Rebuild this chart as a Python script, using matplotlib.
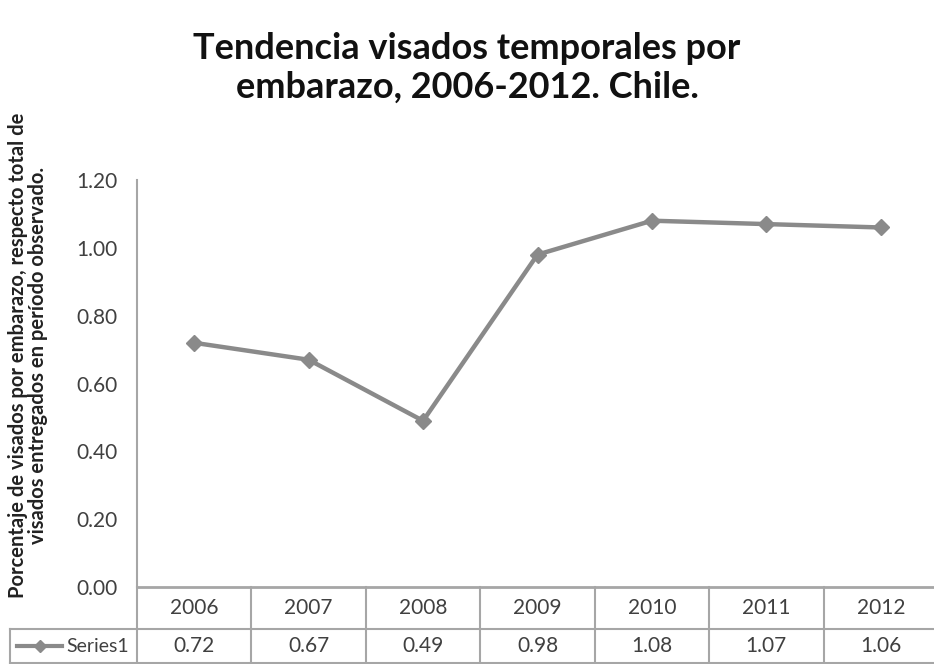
import matplotlib
matplotlib.use("Agg")
import matplotlib.pyplot as plt
from matplotlib.lines import Line2D
import matplotlib.transforms as mtrans

years = ["2006", "2007", "2008", "2009", "2010", "2011", "2012"]
values = [0.72, 0.67, 0.49, 0.98, 1.08, 1.07, 1.06]
series_name = "Series1"
yticks = [0.0, 0.2, 0.4, 0.6, 0.8, 1.0, 1.2]
title = "Tendencia visados temporales por\nembarazo, 2006-2012. Chile."
ylabel = "Porcentaje de visados por embarazo, respecto total de\nvisados entregados en período observado."

plt.rcParams['font.family'] = ['Lato', 'DejaVu Sans']
line_col = "#8a8a8a"
text_col = "#404040"
grid_col = "#a6a6a6"

fig = plt.figure(figsize=(9.34, 6.64), dpi=100)
W, H = 934, 664
x0, x1, ytop, ybot = 137, 938, 180, 587
ax = fig.add_axes([x0 / W, 1 - ybot / H, (x1 - x0) / W, (ybot - ytop) / H])

n = len(years)
xs = list(range(n))
ax.plot(xs, values, color=line_col, lw=3.2, marker="D", ms=8, mfc=line_col, mec=line_col, zorder=3)
ax.set_xlim(-0.5, n - 0.5)
ax.set_ylim(0, 1.2)
ax.set_yticks(yticks)
ax.set_yticklabels([f"{v:.2f}" for v in yticks], fontsize=15, color=text_col)
ax.tick_params(axis="y", length=0, pad=14)
ax.set_xticks([])
for s in ["top", "right"]:
    ax.spines[s].set_visible(False)
ax.spines["left"].set_color(grid_col)
ax.spines["left"].set_linewidth(1.5)
ax.spines["bottom"].set_color(grid_col)
ax.spines["bottom"].set_linewidth(2)

fig.text(0.5, 1 - 68 / H, title, ha="center", va="center", fontsize=26, fontweight="bold",
         color="#111111", linespacing=1.2)
fig.text(0.030, 1 - 355 / H, ylabel, rotation=90, ha="center", va="center", fontsize=14.5,
         fontweight="bold", color="#222222", linespacing=1.05)

# data table drawn below axis: x in data coords, y in axes coords
tr = mtrans.blended_transform_factory(ax.transData, ax.transAxes)
ph = ybot - ytop
def ay(py):
    return (ybot - py) / ph
y_mid = ay(629)
y_bot = ay(663)
lbl_x = -0.5 - (x0 - 10) / ((x1 - x0) / n)
kw = dict(color=grid_col, lw=1.5, transform=tr, clip_on=False)
ax.add_line(Line2D([lbl_x, n - 0.5], [y_mid, y_mid], **kw))
ax.add_line(Line2D([lbl_x, n - 0.5], [y_bot, y_bot], **kw))
ax.add_line(Line2D([lbl_x, lbl_x], [y_mid, y_bot], **kw))
for i in range(n):
    ax.add_line(Line2D([i - 0.5, i - 0.5], [0, y_bot], **kw))
for i, (yr, v) in enumerate(zip(years, values)):
    ax.text(i, (0 + y_mid) / 2, yr, transform=tr, ha="center", va="center", fontsize=15,
            color=text_col, clip_on=False)
    ax.text(i, (y_mid + y_bot) / 2, f"{v:.2f}", transform=tr, ha="center", va="center",
            fontsize=15, color=text_col, clip_on=False)
ax.text(-0.5 - 8 / ((x1 - x0) / n), (y_mid + y_bot) / 2, series_name, transform=tr,
        ha="right", va="center", fontsize=14, color=text_col, clip_on=False)
# legend key in row label cell
ky = 1 - 646 / H
fig.add_artist(Line2D([17 / W, 62 / W], [ky, ky], color=line_col, lw=3))
fig.add_artist(Line2D([40 / W], [ky], color=line_col, marker="D", ms=6, lw=0))

fig.savefig("out.png", dpi=100)
